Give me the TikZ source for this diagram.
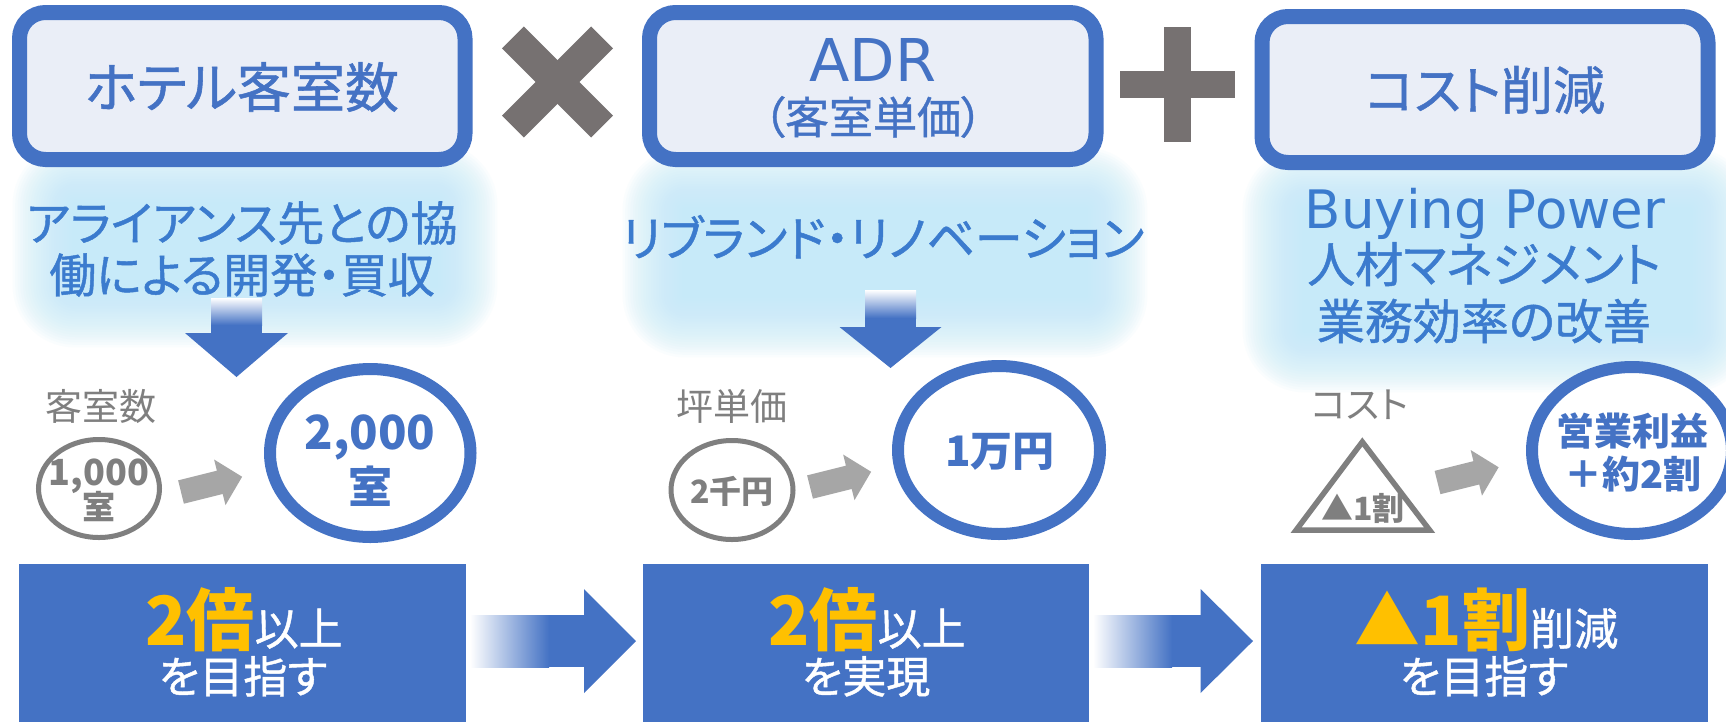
\documentclass[tikz,border=0pt]{standalone}
\usepackage{fontspec}
\setmainfont{Noto Sans CJK JP}[RawFeature=+palt]
\newfontfamily\jpm{Noto Sans CJK JP}[RawFeature=+palt, FakeBold=1]
\newfontfamily\lat{DejaVu Sans}
\usetikzlibrary{calc,shapes.geometric}
\definecolor{bl}{HTML}{4472C4}
\definecolor{boxfill}{HTML}{EAEEF7}
\definecolor{gtx}{HTML}{3B7BCE}
\definecolor{glowc}{HTML}{C3EAF9}
\definecolor{xgray}{HTML}{767171}
\definecolor{lgray}{HTML}{7F7F7F}
\definecolor{agray}{HTML}{A6A6A6}
\definecolor{yel}{HTML}{FFC000}
\newcommand\fs[1]{\fontsize{#1}{#1}\selectfont}
\newcommand\myglow[4]{%
  \foreach \k in {1,...,24}{%
    \pgfmathsetmacro\dd{(25-\k)*2.6}%
    \fill[glowc, fill opacity=0.075, rounded corners=\dd pt] ({#1-\dd},{#2-\dd}) rectangle ({#3+\dd},{#4+\dd});
  }}
\begin{document}
\begin{tikzpicture}[x=1pt,y=-1pt,
  topbox/.style={draw=bl, line width=15pt, fill=boxfill, rounded corners=26pt, inner sep=0pt, minimum height=147pt},
  toptxt/.style={text=bl, inner sep=0pt},
  glowtxt/.style={text=gtx, inner sep=0pt},
  lab/.style={text=lgray, inner sep=0pt, font=\fs{37}},
  gshape/.style={draw=lgray, line width=5pt, fill=white, inner sep=0pt},
  gtext/.style={text=lgray, inner sep=0pt, font=\bfseries},
  bring/.style={ellipse, draw=bl, line width=12pt, fill=white, inner sep=0pt},
  btext/.style={text=bl, inner sep=0pt, font=\bfseries},
  botbox/.style={fill=bl, inner sep=0pt, minimum width=447pt, minimum height=160pt},
  wtext/.style={text=white, inner sep=0pt},
  garrow/.pic={\fill[agray] (0,-12)--(40,-12)--(40,-23.5)--(63,0)--(40,23.5)--(40,12)--(0,12)--cycle;}
]
\useasboundingbox (0,0) rectangle (1726,721);
\clip (0,0) rectangle (1726,721);
\fill[white] (0,0) rectangle (1726,721);

% glows
\myglow{75}{205}{435}{285}
\myglow{685}{210}{1085}{295}
\myglow{1305}{210}{1690}{330}

% top boxes
\node[topbox, minimum width=445.5pt] (b1) at (242.25,86) {};
\node[toptxt, font=\jpm\fs{54}] (t1) at (242,87) {ホテル客室数};
\node[topbox, minimum width=446.5pt] (b2) at (872.75,86) {};
\node[toptxt, font=\lat\fs{59}] (t2a) at (873,60) {ADR};
\node[toptxt, font=\jpm\fs{44}] (t2b) at (873,117) {（客室単価）};
\node[topbox, minimum width=446pt, minimum height=146pt] (b3) at (1485,89.5) {};
\node[toptxt, font=\jpm\fs{52}] (t3) at (1485,90) {コスト削減};

% operators
\fill[xgray, rotate around={45:(557.5,82)}] (494.5,66.5) rectangle (620.5,97.5);
\fill[xgray, rotate around={-45:(557.5,82)}] (494.5,66.5) rectangle (620.5,97.5);
\fill[xgray] (1120,70.5) rectangle (1235,97.5);
\fill[xgray] (1164,27) rectangle (1191,142);

% glow texts
\node[glowtxt, font=\jpm\fs{47}] (g1a) at (242,223) {アライアンス先との協};
\node[glowtxt, font=\jpm\fs{47}] (g1b) at (242,275) {働による開発・買収};
\node[glowtxt, font=\jpm\fs{48}] (g2) at (883,237) {リブランド・リノベーション};
\node[glowtxt, font=\lat\fs{53}, anchor=base] (g3a) at (1485,228) {Buying Power};
\node[glowtxt, font=\jpm\fs{48}] (g3b) at (1484,264) {人材マネジメント};
\node[glowtxt, font=\jpm\fs{48}] (g3c) at (1484,321) {業務効率の改善};

% down arrows
\shade[top color=white, bottom color=bl] (211,298) rectangle (262,325);
\fill[bl] (211,324.5) rectangle (262,334);
\fill[bl] (185,333) -- (288,333) -- (236.5,377) -- cycle;
\shade[top color=white, bottom color=bl] (865,290) rectangle (916,318);
\fill[bl] (865,317.5) rectangle (916,328);
\fill[bl] (839.5,327) -- (941.5,327) -- (890.5,368) -- cycle;

% labels
\node[lab] (l1) at (101,406) {客室数};
\node[lab] (l2) at (732,406) {坪単価};
\node[lab] (l3) at (1360,405) {コスト};

% gray shapes
\node[gshape, ellipse, minimum width=121pt, minimum height=98pt] (c1) at (99,488.5) {};
\node[gtext, font=\bfseries\fs{36}] (c1a) at (99,476) {1,000};
\node[gtext, font=\bfseries\fs{33}] (c1b) at (99,507) {室};
\node[gshape, ellipse, minimum width=122pt, minimum height=99pt] (c2) at (732,490) {};
\node[gtext, font=\bfseries\fs{32}] (c2a) at (732,491) {2千円};
\draw[draw=lgray, line width=5.5pt, fill=white, line join=miter] (1362.3,441.9) -- (1429.5,530) -- (1296.2,530) -- cycle;
\node[gtext, font=\bfseries\fs{32}] (c3a) at (1363,508) {▲1割};

% gray arrows
\pic[rotate=14] at (181,492) {garrow};
\pic[rotate=14] at (810,487) {garrow};
\pic[rotate=14] at (1437.5,482.5) {garrow};

% blue rings
\node[bring, minimum width=200.5pt, minimum height=168pt] (r1) at (370.25,453) {};
\node[btext, font=\bfseries\fs{47}] (r1a) at (370,437) {2,000};
\node[btext, font=\bfseries\fs{44}] (r1b) at (370,486) {室};
\node[bring, minimum width=202pt, minimum height=168pt] (r2) at (999,450) {};
\node[btext, font=\bfseries\fs{42}] (r2a) at (1000,452) {1万円};
\node[bring, minimum width=200pt, minimum height=167pt] (r3) at (1632,450.5) {};
\node[btext, font=\bfseries\fs{38}] (r3a) at (1632,431) {営業利益};
\node[btext, font=\bfseries\fs{38}] (r3b) at (1633,474) {＋約2割};

% bottom boxes
\node[botbox] (ba) at (242.5,644) {};
\node[botbox, minimum width=445.5pt] (bb) at (865.75,644) {};
\node[botbox] (bc) at (1484.5,643.5) {};

\node[wtext, anchor=base] (ba1) at (244,645) {{\color{yel}\bfseries\fs{68}2倍}{\jpm\fs{44}以上}};
\node[wtext, anchor=base, font=\jpm\fs{44}] (ba2) at (243,693) {を目指す};
\node[wtext, anchor=base] (bb1) at (867,645) {{\color{yel}\bfseries\fs{68}2倍}{\jpm\fs{44}以上}};
\node[wtext, anchor=base, font=\jpm\fs{44}] (bb2) at (866,693) {を実現};
\node[wtext, anchor=base] (bc1) at (1486.5,645) {{\color{yel}\fs{66}▲}{\color{yel}\bfseries\fs{68}1割}{\jpm\fs{44}削減}};
\node[wtext, anchor=base, font=\jpm\fs{44}] (bc2) at (1484,693) {を目指す};

% horizontal arrows
\shade[left color=white, right color=bl] (470,615) rectangle (549,667);
\fill[bl] (548.5,615) rectangle (585,667);
\fill[bl] (584,589) -- (636,641) -- (584,693) -- cycle;
\shade[left color=white, right color=bl] (1093,615) rectangle (1172,667);
\fill[bl] (1171.5,615) rectangle (1201.5,667);
\fill[bl] (1200.6,589) -- (1253,641) -- (1200.6,693) -- cycle;
\end{tikzpicture}
\end{document}
